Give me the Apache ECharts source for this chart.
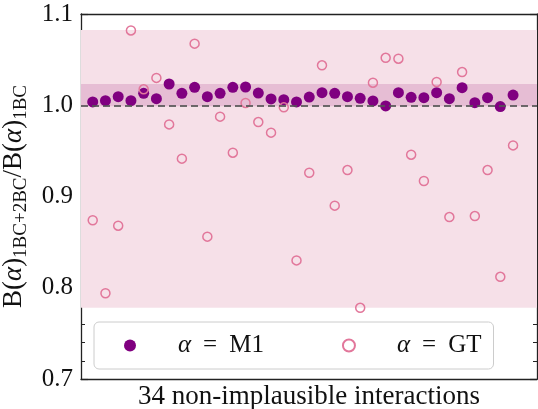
<!DOCTYPE html>
<html><head><meta charset="utf-8">
<script src="https://cdn.jsdelivr.net/npm/echarts@6/dist/echarts.min.js"></script>
<style>html,body{margin:0;padding:0;background:#fff}#c{width:538px;height:409px}</style>
</head><body><div id="c"></div>
<script>
const xIndex = [0,1,2,3,4,5,6,7,8,9,10,11,12,13,14,15,16,17,18,19,20,21,22,23,24,25,26,27,28,29,30,31,32,33];
const m1Values = [1.0036,1.005,1.0094,1.005,1.0131,1.0072,1.0233,1.0131,1.0197,1.0094,1.0131,1.0197,1.020,1.0134,1.0069,1.0061,1.0036,1.009,
  1.0138,1.0131,1.0094,1.0076,1.0047,0.9992,1.0138,1.0087,1.0083,1.0138,1.0072,1.0193,1.0028,1.0083,0.9985,1.0112];
const gtValues = [0.874,0.794,0.868,1.082,1.0175,1.030,0.979,0.9415,1.0675,0.856,0.9875,0.948,1.0025,0.9816,0.970,0.9977,0.830,0.926,
  1.0438,0.890,0.929,0.778,1.0247,1.052,1.051,0.9458,0.917,1.0255,0.8775,1.0364,0.8786,0.929,0.812,0.956];
const outerBand = [0.778, 1.0825];
const innerBand = [0.999, 1.0233];
const refLine = 1.0;
const yTicks = {min: 0.7, max: 1.1, interval: 0.1};
const seriesNames = ['M1', 'GT'];
const xTitle = '34 non-implausible interactions';

const serif = 'Liberation Serif';
const chart = echarts.init(document.getElementById('c'), null, {renderer: 'canvas'});
const legendFmt = n => '{i|α}{e|=}' + n;
chart.setOption({
  animation: false,
  grid: {left: 81, right: 1, top: 14, bottom: 30, outerBoundsMode: 'none', containLabel: false},
  xAxis: [
    {type: 'value', min: -0.92, max: 34.88, position: 'bottom',
     axisLine: {show: true, onZero: false, lineStyle: {color: '#222', width: 1.3}},
     axisTick: {show: false}, axisLabel: {show: false}, splitLine: {show: false},
     name: xTitle, nameLocation: 'middle', nameGap: 4,
     nameTextStyle: {fontFamily: serif, fontSize: 27, color: '#111'}},
    {type: 'value', min: -0.92, max: 34.88, position: 'top',
     axisLine: {show: true, onZero: false, lineStyle: {color: '#222', width: 1.3}},
     axisTick: {show: false}, axisLabel: {show: false}, splitLine: {show: false}}
  ],
  yAxis: [
    {type: 'value', min: yTicks.min, max: yTicks.max, interval: yTicks.interval, position: 'left',
     axisLine: {show: true, onZero: false, lineStyle: {color: '#222', width: 1.3}},
     axisTick: {show: true, inside: true, length: 7, lineStyle: {color: '#222', width: 1.2}},
     minorTick: {show: true, splitNumber: 5, length: 4, lineStyle: {color: '#222', width: 1}},
     axisLabel: {formatter: v => v.toFixed(1), fontFamily: serif, fontSize: 25, color: '#111', margin: 8},
     splitLine: {show: false},
     name: '{a|B(}{i|α}{a|)}{s|1BC+2BC}{a|/B(}{i|α}{a|)}{s|1BC}',
     nameLocation: 'middle', nameGap: 35, nameRotate: 90,
     nameTextStyle: {
       rich: {
         a: {fontFamily: serif, fontSize: 27, lineHeight: 34, color: '#111'},
         i: {fontFamily: serif, fontSize: 27, lineHeight: 34, fontStyle: 'italic', color: '#111'},
         s: {fontFamily: serif, fontSize: 19, lineHeight: 19, verticalAlign: 'bottom', color: '#111'}
       }
     }},
    {type: 'value', min: yTicks.min, max: yTicks.max, interval: yTicks.interval, position: 'right',
     axisLine: {show: true, onZero: false, lineStyle: {color: '#222', width: 1.3}},
     axisTick: {show: true, inside: true, length: 7, lineStyle: {color: '#222', width: 1.2}},
     minorTick: {show: true, splitNumber: 5, length: 4, lineStyle: {color: '#222', width: 1}},
     axisLabel: {show: false}, splitLine: {show: false}}
  ],
  legend: {
    left: 94, top: 322, width: 403, height: 45,
    padding: [11, 12, 11, 30],
    borderColor: '#cccccc', borderWidth: 1, borderRadius: 5,
    backgroundColor: 'rgba(255,255,255,0.85)',
    itemGap: 78,
    itemWidth: 18, itemHeight: 12,
    data: seriesNames.map(n => ({name: n})),
    formatter: legendFmt,
    textStyle: {fontFamily: serif, fontSize: 25, color: '#111', padding: [0, 0, 0, 34],
      rich: {i: {fontFamily: serif, fontSize: 25, fontStyle: 'italic', color: '#111'},
             e: {fontFamily: serif, fontSize: 25, color: '#111', padding: [0, 12, 0, 12]}}}
  },
  series: [
    {type: 'scatter', name: '_bands', data: [], z: 1, silent: true,
     markArea: {silent: true, data: [
       [{yAxis: outerBand[0], itemStyle: {color: '#f6e0e8'}}, {yAxis: outerBand[1]}],
       [{yAxis: innerBand[0], itemStyle: {color: '#e6bdd4'}}, {yAxis: innerBand[1]}]
     ]},
     markLine: {silent: true, symbol: 'none', label: {show: false},
       lineStyle: {color: '#555', type: [7, 4], width: 2, opacity: 0.85},
       data: [{yAxis: refLine}]}},
    {type: 'scatter', name: seriesNames[0], z: 3, symbol: 'circle', symbolSize: 11,
     itemStyle: {color: '#800080', opacity: 1},
     data: xIndex.map((x, i) => [x, m1Values[i]])},
    {type: 'scatter', name: seriesNames[1], z: 4, symbol: 'circle', symbolSize: 9,
     itemStyle: {color: 'rgba(0,0,0,0)', borderColor: '#e2779b', borderWidth: 1.5, opacity: 1},
     data: xIndex.map((x, i) => [x, gtValues[i]])}
  ]
});
</script></body></html>
